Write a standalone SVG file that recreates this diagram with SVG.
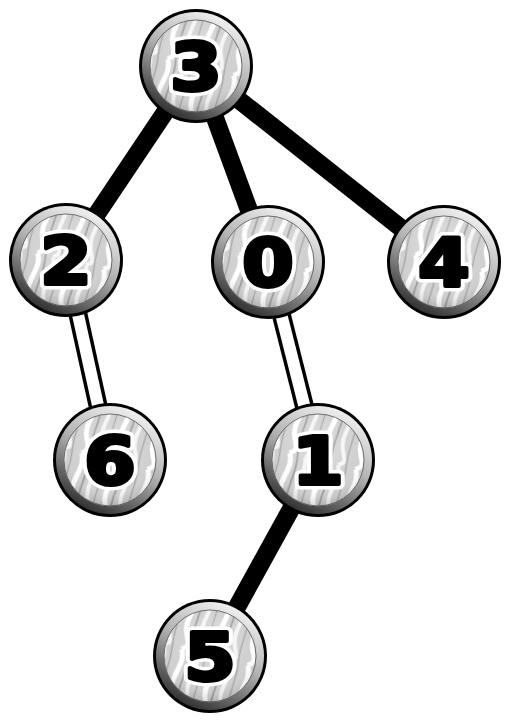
<svg xmlns="http://www.w3.org/2000/svg" width="511" height="726" viewBox="0 0 511 726">
<defs>
<linearGradient id="ring" x1="0.75" y1="0" x2="0.25" y2="1">
<stop offset="0" stop-color="#f6f6f6"/>
<stop offset="0.45" stop-color="#b4b4b4"/>
<stop offset="1" stop-color="#262626"/>
</linearGradient>
<radialGradient id="shade" cx="0.5" cy="0.35" r="0.65">
<stop offset="0" stop-color="#ffffff" stop-opacity="0.3"/>
<stop offset="0.7" stop-color="#ffffff" stop-opacity="0"/>
<stop offset="1" stop-color="#000000" stop-opacity="0.15"/>
</radialGradient>
<pattern id="zebra" width="34" height="60" patternUnits="userSpaceOnUse" patternTransform="rotate(14)">
<rect width="34" height="60" fill="#d0d0d0"/>
<path d="M5 0 C13 14 -1 30 6 44 S9 56 5 60" stroke="#ffffff" stroke-width="5" fill="none"/>
<path d="M21 0 C27 16 15 30 22 45 S24 56 21 60" stroke="#f5f5f5" stroke-width="4" fill="none"/>
<path d="M13 0 C17 18 9 34 13 60" stroke="#9a9a9a" stroke-width="1.8" fill="none"/>
<path d="M29 0 C32 20 26 38 29 60" stroke="#a6a6a6" stroke-width="1.4" fill="none"/>
</pattern>
</defs>
<style>
.outer{fill:#000}
.ring{fill:url(#ring)}
.inner{fill:url(#zebra);stroke:#6a6a6a;stroke-width:1}
.shade{fill:url(#shade)}
.halo{font-family:"DejaVu Sans",sans-serif;font-weight:bold;font-size:66px;text-anchor:middle;fill:#fff;stroke:#fff;stroke-width:11;stroke-linejoin:round}
.num{font-family:"DejaVu Sans",sans-serif;font-weight:bold;font-size:66px;text-anchor:middle;fill:#000;stroke:#000;stroke-width:4;stroke-linejoin:round}
.thick{stroke:#000;stroke-width:18;stroke-linecap:butt;fill:none}
.dblo{stroke:#000;stroke-width:19;fill:none}
.dbli{stroke:#fff;stroke-width:12;fill:none}
</style>
<g id="connectors">
<line class="thick" x1="196" y1="66" x2="66" y2="260"/>
<line class="thick" x1="196" y1="66" x2="268" y2="262"/>
<line class="thick" x1="196" y1="66" x2="444" y2="262"/>
<line class="thick" x1="318" y1="460" x2="210" y2="656"/>
<line class="dblo" x1="66" y1="260" x2="110" y2="460"/>
<line class="dbli" x1="66" y1="260" x2="110" y2="460"/>
<line class="dblo" x1="268" y1="262" x2="318" y2="460"/>
<line class="dbli" x1="268" y1="262" x2="318" y2="460"/>
</g>
<g id="node-3" transform="translate(196,66)">
<circle class="outer" r="57"/><circle class="ring" r="54"/><circle class="inner" r="46"/><circle class="shade" r="46"/>
<g transform="scale(1.12,1)"><text class="halo" y="24">3</text><text class="num" y="24">3</text></g>
</g>
<g id="node-2" transform="translate(66,260)">
<circle class="outer" r="57"/><circle class="ring" r="54"/><circle class="inner" r="46"/><circle class="shade" r="46"/>
<g transform="scale(1.12,1)"><text class="halo" y="24">2</text><text class="num" y="24">2</text></g>
</g>
<g id="node-0" transform="translate(268,262)">
<circle class="outer" r="57"/><circle class="ring" r="54"/><circle class="inner" r="46"/><circle class="shade" r="46"/>
<g transform="scale(1.12,1)"><text class="halo" y="24">0</text><text class="num" y="24">0</text></g>
</g>
<g id="node-4" transform="translate(444,262)">
<circle class="outer" r="57"/><circle class="ring" r="54"/><circle class="inner" r="46"/><circle class="shade" r="46"/>
<g transform="scale(1.12,1)"><text class="halo" y="24">4</text><text class="num" y="24">4</text></g>
</g>
<g id="node-6" transform="translate(110,460)">
<circle class="outer" r="57"/><circle class="ring" r="54"/><circle class="inner" r="46"/><circle class="shade" r="46"/>
<g transform="scale(1.12,1)"><text class="halo" y="24">6</text><text class="num" y="24">6</text></g>
</g>
<g id="node-1" transform="translate(318,460)">
<circle class="outer" r="57"/><circle class="ring" r="54"/><circle class="inner" r="46"/><circle class="shade" r="46"/>
<g transform="scale(1.12,1)"><text class="halo" y="24">1</text><text class="num" y="24">1</text></g>
</g>
<g id="node-5" transform="translate(210,656)">
<circle class="outer" r="57"/><circle class="ring" r="54"/><circle class="inner" r="46"/><circle class="shade" r="46"/>
<g transform="scale(1.12,1)"><text class="halo" y="24">5</text><text class="num" y="24">5</text></g>
</g>
</svg>
